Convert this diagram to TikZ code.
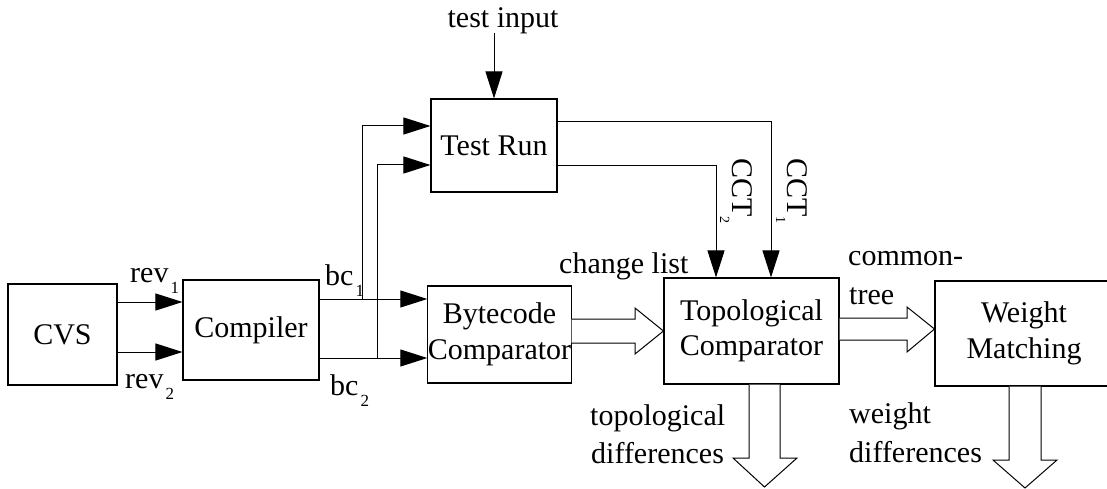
\documentclass[tikz,border=0pt]{standalone}
\usepackage{fontspec}
\setmainfont{Liberation Serif}
\usetikzlibrary{arrows.meta}
% lowered index digit set after a label word
\newcommand\lowsub[2][17]{\raisebox{-11.5pt}{\fontsize{#1}{#1}\selectfont #2}}

\begin{document}
\begin{tikzpicture}[x=1pt,y=-1pt,
  box/.style={draw, line width=1.1pt, fill=white, inner sep=0pt, align=center,
              font=\fontsize{30}{35.5}\selectfont},
  lbl/.style={inner sep=0pt, font=\fontsize{30}{35}\selectfont},
  wire/.style={line width=1pt},
  arr/.style={wire, -{Triangle[length=27pt,width=17pt]}},
  fat/.style={line width=1pt, fill=white, line join=miter}]

\useasboundingbox (0,0) rectangle (1107,489);

% processing blocks
\node[box, minimum width=109pt, minimum height=101pt] (cvs)  at (62.5,334.5) {CVS};
\node[box, minimum width=136pt, minimum height=100pt] (comp) at (251,330)    {Compiler};
\node[box, minimum width=139pt, minimum height=97pt]  (bcc)  at (499.5,334.5) {Bytecode\\Comparator};
\node[box, minimum width=126pt, minimum height=93pt]  (tr)   at (494,145.5)  {Test Run};
\node[box, minimum width=175pt, minimum height=106pt] (tc)   at (751.5,331)  {Topological\\Comparator};
% the last block runs past the right edge of the page
\node[box, minimum width=200pt, minimum height=105pt] (wm)   at (1035,333.5) {};
\node[box, draw=none, fill=none] (wmt) at (1024,333.5) {Weight\\Matching};

% helper points
\coordinate (ti) at (494,33);
\coordinate (j1) at (362,299);
\coordinate (j2) at (377,358);
\coordinate (c2) at (716,0);
\coordinate (c1) at (771,0);

% revisions into the compiler
\draw[arr] (cvs.east |- 0,302) -- (comp.west |- 0,302);
\draw[arr] (cvs.east |- 0,352) -- (comp.west |- 0,352);

% bytecode out of the compiler
\draw[arr] (comp.east |- j1) -- (bcc.west |- j1);
\draw[arr] (comp.east |- j2) -- (bcc.west |- j2);
\draw[arr] (j1) |- (tr.west |- 0,126);
\draw[arr] (j2) |- (tr.west |- 0,165);

% test input
\draw[arr] (ti) -- (tr.north);

% call trees into the topological comparator
\draw[arr] (tr.east |- 0,122) -| (c1 |- tc.north);
\draw[arr] (tr.east |- 0,166) -| (c2 |- tc.north);

% hollow arrows
\draw[fat] (bcc.east |- 0,319) -- (635,319) -- (635,308) -- (tc.west |- 0,331)
           -- (635,354) -- (635,343) -- (bcc.east |- 0,343);
\draw[fat] (tc.east |- 0,318) -- (907,318) -- (907,307) -- (wm.west |- 0,329)
           -- (907,352) -- (907,340) -- (tc.east |- 0,340);
\draw[fat] (749,0 |- tc.south) -- (749,458) -- (733,458) -- (764.5,487)
           -- (797,458) -- (780,458) -- (780,0 |- tc.south);
\draw[fat] (1009,0 |- wm.south) -- (1009,460) -- (993,460) -- (1025,488)
           -- (1057,460) -- (1041,460) -- (1041,0 |- wm.south);

% labels
\node[lbl, anchor=base] (lti) at (503,28) {test input};
\node[lbl, anchor=base west] (lr1) at (130,282) {rev\kern2pt\lowsub{1}};
\node[lbl, anchor=base west] (lr2) at (125,388) {rev\kern2pt\lowsub{2}};
\node[lbl, anchor=base west] (lb1) at (325,285) {bc\kern2pt\lowsub{1}};
\node[lbl, anchor=base west] (lb2) at (330,395) {bc\kern2pt\lowsub{2}};
\node[lbl, anchor=base west] (lcl) at (559,273) {change list};
\node[lbl, anchor=base west] (lct) at (848,265) {common-};
\node[lbl, anchor=base west] (ltr) at (849,304) {tree};
\node[lbl, anchor=base west] (ltp) at (590,425) {topological};
\node[lbl, anchor=base west] (ltd) at (591,463) {differences};
\node[lbl, anchor=base west] (lwt) at (849,423) {weight};
\node[lbl, anchor=base west] (lwd) at (849,462) {differences};
\node[lbl, anchor=base west, rotate=-90] (lc2) at (732,158) {CCT\raisebox{-12pt}{\fontsize{14}{14}\selectfont 2}};
\node[lbl, anchor=base west, rotate=-90] (lc1) at (787,158) {CCT\raisebox{-11pt}{\fontsize{14}{14}\selectfont 1}};
\end{tikzpicture}
\end{document}
